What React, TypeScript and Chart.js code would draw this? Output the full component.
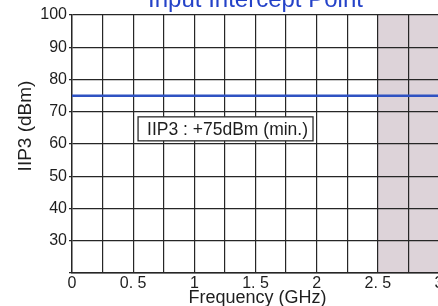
import React, { useEffect, useRef } from 'react';
import { Chart, registerables } from 'chart.js';

Chart.register(...registerables);

// ---- data ----
const freqGHz = [0, 3];
const iip3dBm = [75, 75];
const xTickLabels = ['0', '', '0. 5', '', '1', '', '1. 5', '', '2', '', '2. 5', '', '3'];
const yTickValues = [20, 30, 40, 50, 60, 70, 80, 90, 100];
const shadedBandGHz = [2.5, 3];
const titleText = 'Input Intercept Point';
const xTitleText = 'Frequency (GHz)';
const yTitleText = 'IIP3 (dBm)';
const noteText = 'IIP3 : +75dBm (min.)';
const noteAnchor = { x: 0.54, y: 64.7 };

const FONT = "'Liberation Sans', Arial, Helvetica, sans-serif";
const GRID = '#262626';
const SHADE = '#ddd3d9';
const BLUE = '#2f52c2';

export default function App() {
  const ref = useRef<HTMLCanvasElement>(null);

  useEffect(() => {
    const canvas = ref.current;
    if (!canvas) return;

    const bgPlugin = {
      id: 'bgShade',
      beforeDraw(chart: any) {
        const { ctx, chartArea: a, scales } = chart;
        ctx.save();
        ctx.fillStyle = '#ffffff';
        ctx.fillRect(0, 0, chart.width, chart.height);
        const x0 = scales.x.getPixelForValue(shadedBandGHz[0]);
        const x1 = scales.x.getPixelForValue(shadedBandGHz[1]);
        ctx.fillStyle = SHADE;
        ctx.fillRect(x0, a.top, x1 - x0, a.bottom - a.top);
        ctx.restore();
      },
    };

    const textPlugin = {
      id: 'texts',
      afterDraw(chart: any) {
        const { ctx, chartArea: a, scales } = chart;
        ctx.save();
        // main title (partly above the visible area)
        ctx.fillStyle = '#2442c8';
        ctx.font = `24px ${FONT}`;
        ctx.textAlign = 'center';
        ctx.textBaseline = 'alphabetic';
        ctx.fillText(titleText, (a.left + a.right) / 2, a.top - 8);

        // x title
        ctx.fillStyle = '#1e1e1e';
        ctx.font = `18px ${FONT}`;
        ctx.fillText(xTitleText, (a.left + a.right) / 2 + 2, a.bottom + 30);

        // y title
        ctx.save();
        ctx.translate(31, a.top + 111);
        ctx.rotate(-Math.PI / 2);
        ctx.font = `19px ${FONT}`;
        ctx.textAlign = 'center';
        ctx.textBaseline = 'alphabetic';
        ctx.fillText(yTitleText, 0, 0);
        ctx.restore();

        // note box
        ctx.font = `17.5px ${FONT}`;
        const tw = ctx.measureText(noteText).width;
        const bx = scales.x.getPixelForValue(noteAnchor.x);
        const cy = scales.y.getPixelForValue(noteAnchor.y);
        const bw = tw + 14;
        const bh = 24;
        ctx.fillStyle = '#ffffff';
        ctx.fillRect(bx, cy - bh / 2, bw, bh);
        ctx.strokeStyle = '#2a2a2a';
        ctx.lineWidth = 1.3;
        ctx.strokeRect(bx, cy - bh / 2, bw, bh);
        ctx.fillStyle = '#1e1e1e';
        ctx.textAlign = 'left';
        ctx.textBaseline = 'middle';
        ctx.fillText(noteText, bx + 9, cy + 1);
        ctx.restore();
      },
    };

    const chart = new Chart(canvas, {
      type: 'line',
      data: {
        datasets: [
          {
            data: freqGHz.map((f, i) => ({ x: f, y: iip3dBm[i] })),
            borderColor: BLUE,
            borderWidth: 2.5,
            pointRadius: 0,
            fill: false,
          },
        ],
      },
      options: {
        responsive: false,
        animation: false,
        layout: { padding: { top: 15, left: 0, right: 21, bottom: 0 } },
        plugins: {
          legend: { display: false },
          title: { display: false },
          tooltip: { enabled: false },
        },
        scales: {
          x: {
            type: 'linear',
            min: 0,
            max: 3,
            afterFit: (s: any) => { s.height = 33; },
            afterBuildTicks: (s: any) => {
              s.ticks = xTickLabels.map((_, i) => ({ value: i * 0.25 }));
            },
            ticks: {
              autoSkip: false,
              maxRotation: 0,
              padding: 1,
              color: '#1e1e1e',
              font: { family: FONT, size: 16 },
              callback: (_v: any, i: number) => xTickLabels[i],
            },
            grid: { color: GRID, lineWidth: 1.2, drawTicks: false },
            border: { display: true, color: GRID, width: 1.4 },
          },
          y: {
            type: 'linear',
            min: 20,
            max: 100,
            afterFit: (s: any) => { s.width = 72; },
            afterBuildTicks: (s: any) => {
              s.ticks = yTickValues.map((v) => ({ value: v }));
            },
            ticks: {
              padding: 2,
              color: '#1e1e1e',
              font: { family: FONT, size: 16 },
              callback: (v: any) => (v === 20 ? '' : String(v)),
            },
            grid: { color: GRID, lineWidth: 1.2, drawTicks: true, tickLength: 3 },
            border: { display: true, color: GRID, width: 1.4 },
          },
        },
      },
      plugins: [bgPlugin, textPlugin],
    });

    return () => chart.destroy();
  }, []);

  return (
    <div
      style={{
        position: 'fixed',
        left: 0,
        top: 0,
        width: 438,
        height: 306,
        overflow: 'hidden',
        background: '#ffffff',
      }}
    >
      <canvas ref={ref} width={460} height={306} style={{ display: 'block' }} />
    </div>
  );
}
